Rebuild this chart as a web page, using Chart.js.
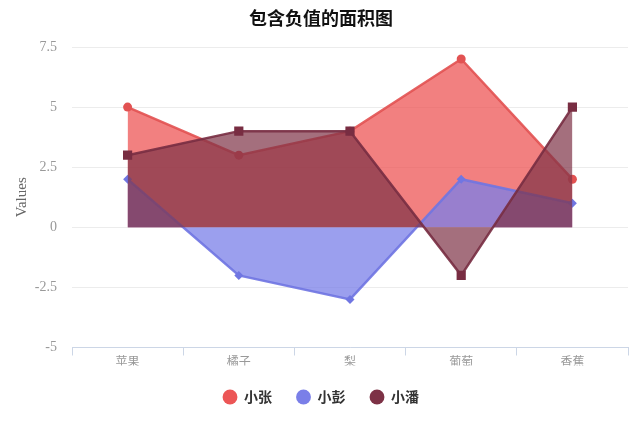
<!DOCTYPE html>
<html>
<head>
<meta charset="utf-8">
<script src="https://cdn.jsdelivr.net/npm/chart.js@4.4.1/dist/chart.umd.min.js"></script>
<style>
html,body{margin:0;padding:0;background:#fff;}
#wrap{width:640px;height:427px;}
</style>
</head>
<body>
<div id="wrap"><canvas id="c" width="640" height="427"></canvas></div>
<script>
const titleText = '包含负值的面积图';
const categories = ['苹果', '橘子', '梨', '葡萄', '香蕉'];
const seriesNames = ['小张', '小彭', '小潘'];
const zhangValues = [5, 3, 4, 7, 2];
const pengValues = [2, -2, -3, 2, 1];
const panValues = [3, 4, 4, -2, 5];
const yTicks = [-5, -2.5, 0, 2.5, 5, 7.5];
const yTitle = 'Values';

const serif = '"Liberation Serif", "Times New Roman", "Noto Sans CJK SC", serif';
const sans = '"Noto Sans CJK SC", "Noto Sans", sans-serif';

const solid = ['rgb(236,86,86)', 'rgb(122,127,232)', 'rgb(125,50,70)'];

const datasets = [
  {
    label: seriesNames[0], data: zhangValues, order: 3,
    fill: 'origin',
    backgroundColor: 'rgba(238,86,86,0.75)',
    borderColor: 'rgba(226,82,82,0.9)',
    borderWidth: 2.5,
    pointStyle: 'circle', pointRadius: 4.5,
    pointBackgroundColor: 'rgb(226,82,82)', pointBorderWidth: 0,
    tension: 0
  },
  {
    label: seriesNames[1], data: pengValues, order: 2,
    fill: 'origin',
    backgroundColor: 'rgba(122,127,232,0.75)',
    borderColor: 'rgba(112,118,226,0.9)',
    borderWidth: 2.5,
    pointStyle: 'rectRot', pointRadius: 4.5,
    pointBackgroundColor: 'rgb(112,118,226)', pointBorderWidth: 0,
    tension: 0
  },
  {
    label: seriesNames[2], data: panValues, order: 1,
    fill: 'origin',
    backgroundColor: 'rgba(125,50,70,0.7)',
    borderColor: 'rgba(120,45,66,0.9)',
    borderWidth: 2.5,
    pointStyle: 'rect', pointRadius: 6.5,
    pointBackgroundColor: 'rgb(120,45,66)', pointBorderWidth: 0,
    tension: 0
  }
];

new Chart(document.getElementById('c'), {
  type: 'line',
  data: { labels: categories, datasets: datasets },
  options: {
    responsive: false,
    animation: false,
    layout: { padding: { left: 14, right: 12, top: 0, bottom: 13 } },
    plugins: {
      title: {
        display: true, text: titleText, color: '#111',
        font: { family: sans, size: 18, weight: 'bold' },
        padding: { top: 7, bottom: 18.4 }
      },
      legend: {
        position: 'bottom',
        labels: {
          usePointStyle: true, pointStyle: 'circle',
          boxWidth: 14, boxHeight: 10.5,
          padding: 24.5, color: '#333',
          font: { family: sans, size: 14, weight: 'bold' },
          sort: (a, b) => a.datasetIndex - b.datasetIndex,
          generateLabels: (chart) => {
            const items = Chart.defaults.plugins.legend.labels.generateLabels(chart);
            items.forEach(it => {
              it.fillStyle = solid[it.datasetIndex];
              it.strokeStyle = solid[it.datasetIndex];
              it.lineWidth = 0;
              it.pointStyle = 'circle';
            });
            return items;
          }
        }
      },
      tooltip: { enabled: false }
    },
    scales: {
      x: {
        type: 'category',
        offset: true,
        grid: {
          display: true, offset: true, drawOnChartArea: false, drawTicks: true,
          tickLength: 8, color: '#ccd6e6', lineWidth: 1
        },
        border: { display: true, color: '#ccd6e6', width: 1 },
        ticks: { color: '#999', font: { family: serif, size: 12 }, padding: 0 },
        afterFit: (s) => { s.height = 18; }
      },
      y: {
        min: -5, max: 7.5,
        afterBuildTicks: (s) => { s.ticks = yTicks.map(v => ({ value: v })); },
        grid: { color: '#ececec', drawTicks: false, lineWidth: 1 },
        border: { display: false },
        ticks: {
          color: '#999', font: { family: serif, size: 14 }, padding: 15,
          callback: (v) => String(v)
        },
        title: {
          display: true, text: yTitle, color: '#666',
          font: { family: serif, size: 15 },
          padding: { top: -1, bottom: 0 }
        },
        afterFit: (s) => { s.width = 58; }
      }
    }
  }
});
</script>
</body>
</html>
